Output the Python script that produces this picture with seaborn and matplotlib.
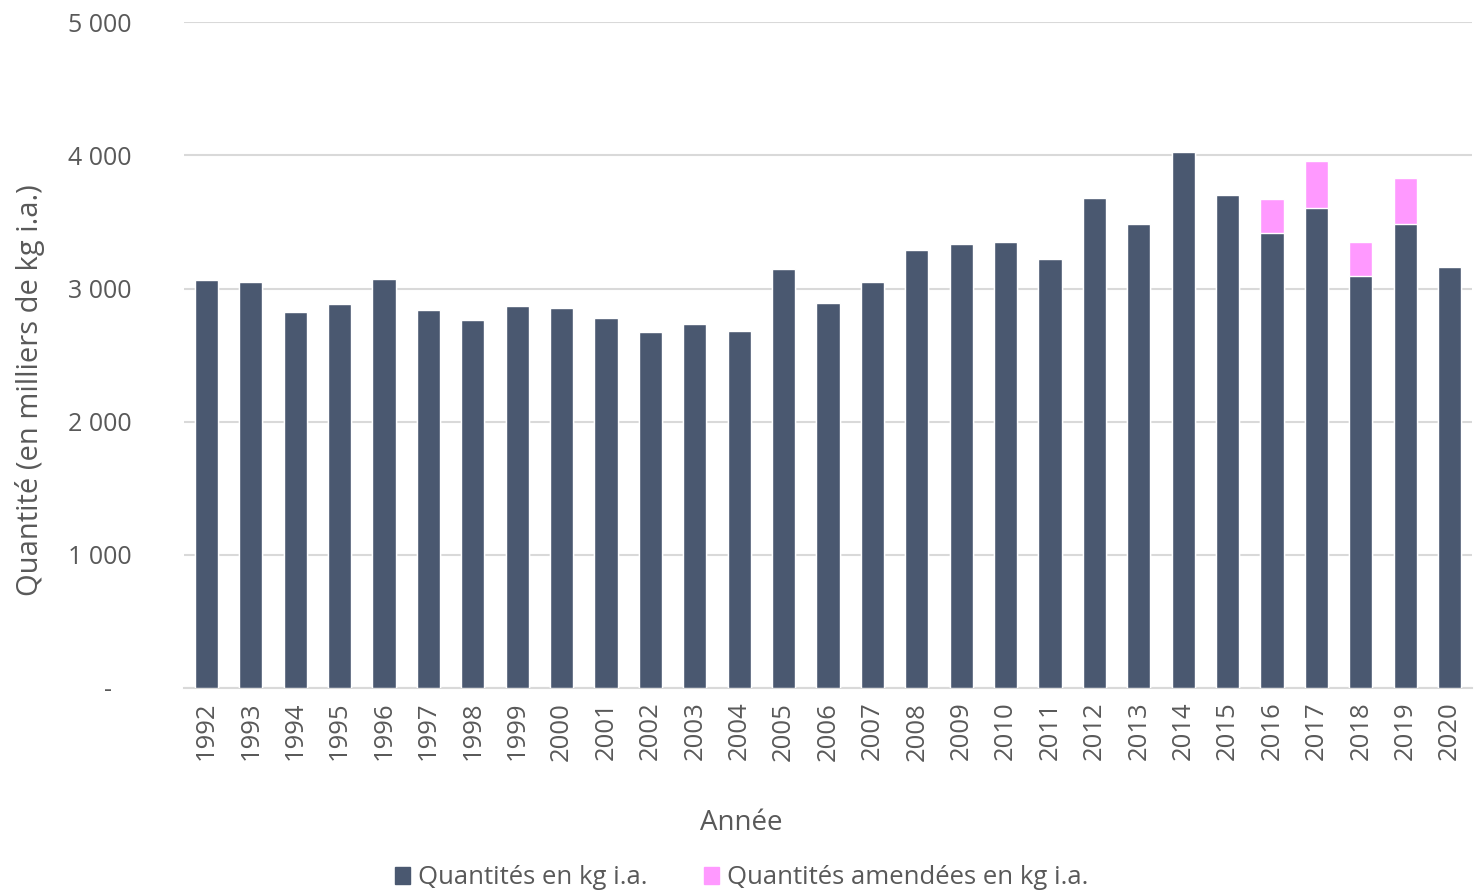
import seaborn as sns
import matplotlib.pyplot as plt
import matplotlib.ticker as mticker
from matplotlib.patches import Patch
import pandas as pd

years = [str(y) for y in range(1992, 2021)]
quantites = [3063, 3048, 2823, 2883, 3071, 2838, 2763, 2868, 2853, 2778,
             2673, 2733, 2680, 3146, 2890, 3048, 3288, 3333, 3348, 3221,
             3679, 3483, 4024, 3701, 3416, 3604, 3093, 3483, 3161]
amendees = [0, 0, 0, 0, 0, 0, 0, 0, 0, 0,
            0, 0, 0, 0, 0, 0, 0, 0, 0, 0,
            0, 0, 0, 0, 255, 352, 255, 346, 0]

dark = "#4a5870"
pink = "#ff99ff"
grey = "#595959"

df = pd.DataFrame({"annee": years, "quantite": quantites, "amendee": amendees})
df["total"] = df["quantite"] + df["amendee"]

sns.set_style("white")
plt.rcParams['font.family'] = ['Open Sans', 'DejaVu Sans']

fig = plt.figure(figsize=(14.74, 8.91), dpi=100)
ax = fig.add_axes([0.125, 0.228, 0.8735, 0.747])

sns.barplot(data=df, x="annee", y="total", color=pink, width=0.52,
            saturation=1, ax=ax, zorder=3)
sns.barplot(data=df, x="annee", y="quantite", color=dark, width=0.52,
            saturation=1, ax=ax, zorder=3)

ax.set_ylim(0, 5000)
ax.set_xlim(-0.5, len(years) - 0.5)
ax.yaxis.set_major_locator(mticker.MultipleLocator(1000))
ax.yaxis.set_major_formatter(mticker.FuncFormatter(
    lambda v, p: "-   " if v == 0 else f"{int(v):,}".replace(",", " ")))
ax.grid(axis="y", color="#d9d9d9", linewidth=1.5, zorder=0)
for s in ["top", "right", "left"]:
    ax.spines[s].set_visible(False)
ax.spines["bottom"].set_color("#d9d9d9")
ax.spines["bottom"].set_linewidth(1.5)

ax.tick_params(axis="y", length=0, pad=38, labelsize=18, labelcolor=grey)
ax.tick_params(axis="x", length=0, pad=10, labelsize=18.5, labelcolor=grey,
               rotation=90)

ax.set_xlabel("Année", fontsize=20, color=grey)
ax.xaxis.set_label_coords(0.503, 1 - 823 / 891, transform=fig.transFigure)
ax.xaxis.label.set_va("center")
ax.set_ylabel("Quantité (en milliers de kg i.a.)", fontsize=21, color=grey)
ax.yaxis.set_label_coords(30 / 1474, 1 - 390 / 891, transform=fig.transFigure)
ax.yaxis.label.set_va("center")

handles = [Patch(color=dark, label="Quantités en kg i.a."),
           Patch(color=pink, label="Quantités amendées en kg i.a.")]
fig.legend(handles=handles, loc="center", bbox_to_anchor=(0.503, 1 - 878 / 891),
           ncol=2, frameon=False, fontsize=18.5, labelcolor=grey,
           handlelength=0.6, handleheight=0.6, handletextpad=0.3,
           columnspacing=2.2)

fig.savefig("out.png", dpi=100)
